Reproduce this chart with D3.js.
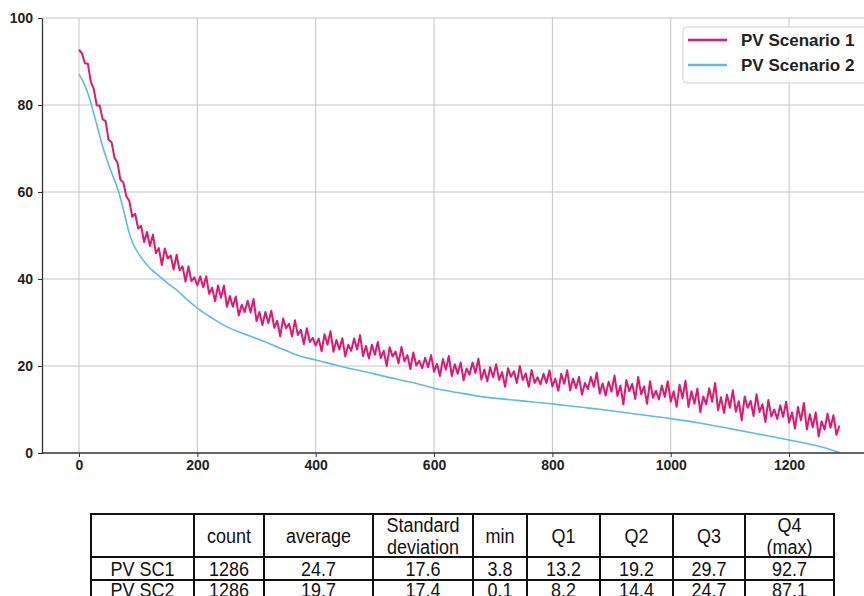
<!DOCTYPE html>
<html>
<head>
<meta charset="utf-8">
<script src="https://cdn.jsdelivr.net/npm/d3@7"></script>
<style>
  body { margin: 0; background: #fff; }
  svg { display: block; font-family: 'Liberation Sans', Arial, sans-serif; }
</style>
</head>
<body>
<svg id="chart" width="864" height="596"></svg>
<script>
// PV Scenario 1 values, one every 5 samples (0 .. 1285)
const sc1Values = [
  92.7, 91.9, 89.6, 89.5, 85.3, 83.7, 79.9, 79.9, 76.7, 76.3,
  72.0, 71.5, 67.9, 66.8, 62.8, 62.2, 59.0, 58.0, 54.3, 55.0,
  51.6, 52.2, 48.5, 50.8, 47.6, 50.2, 45.9, 47.1, 43.2, 47.0,
  44.7, 45.4, 42.2, 45.6, 42.0, 42.9, 39.4, 42.9, 39.5, 40.4,
  38.5, 40.6, 38.1, 40.6, 36.6, 38.0, 34.9, 38.5, 35.7, 38.5,
  33.6, 36.1, 33.6, 36.0, 31.6, 34.1, 32.4, 35.0, 32.3, 35.4,
  30.3, 32.4, 29.4, 32.4, 29.9, 32.7, 28.8, 30.4, 26.8, 30.9,
  28.7, 29.7, 26.8, 30.5, 27.1, 28.3, 25.0, 28.7, 25.5, 26.5,
  24.7, 26.3, 23.4, 27.3, 24.9, 28.0, 23.3, 26.0, 23.8, 26.4,
  22.2, 24.9, 23.5, 26.3, 23.8, 27.1, 22.3, 24.6, 21.7, 24.9,
  22.6, 25.5, 21.8, 23.5, 20.0, 24.3, 22.2, 23.3, 20.6, 24.4,
  21.1, 22.5, 19.3, 23.1, 20.1, 21.2, 19.5, 21.9, 19.7, 22.5,
  18.7, 20.5, 17.7, 21.6, 19.2, 22.3, 17.7, 20.4, 18.2, 20.8,
  16.7, 19.4, 18.0, 20.8, 18.4, 21.7, 16.9, 19.2, 16.5, 19.7,
  17.4, 20.4, 16.8, 18.6, 15.2, 19.5, 17.5, 18.8, 16.1, 20.0,
  16.8, 18.3, 15.2, 19.1, 16.1, 17.4, 15.8, 18.2, 16.1, 19.0,
  15.3, 17.1, 14.3, 18.2, 15.9, 19.0, 14.4, 17.1, 14.9, 17.5,
  13.4, 16.1, 14.7, 17.5, 15.2, 18.5, 13.7, 16.0, 13.2, 16.4,
  14.1, 17.8, 13.1, 15.5, 11.2, 16.8, 14.2, 15.9, 12.4, 17.5,
  13.5, 15.3, 11.3, 16.5, 12.7, 14.3, 12.3, 15.5, 12.9, 16.5,
  11.8, 14.2, 10.6, 15.7, 12.6, 16.6, 10.6, 14.2, 11.3, 14.8,
  9.4, 13.0, 11.2, 14.9, 11.8, 16.1, 9.8, 12.8, 9.2, 13.4,
  10.4, 14.4, 9.5, 11.9, 7.5, 13.0, 10.4, 12.0, 8.5, 13.5,
  9.4, 11.2, 7.1, 12.2, 8.4, 10.0, 7.8, 11.0, 8.3, 11.8,
  7.0, 9.3, 5.6, 10.6, 7.5, 11.5, 5.4, 8.9, 5.9, 9.3,
  3.8, 7.3, 5.4, 9.0, 5.8, 8.7, 4.2, 6.3
];
const sc1Index = d3.range(0, 1286, 5);

// PV Scenario 2 (smooth curve) as [sample, value]
const sc2Points = [
  [0, 87.1], [10, 84.5], [19, 81], [30, 75.5], [41, 70], [55, 64.5], [66, 60.5],
  [76, 55.5], [84, 51], [90, 48.5], [100, 46], [108, 44.4], [120, 42.5], [137, 40.5],
  [150, 39], [165, 37.5], [180, 35.6], [200, 33.3], [225, 31], [250, 29], [275, 27.6],
  [300, 26.3], [340, 24.1], [373, 22.3], [400, 21.4], [440, 20], [486, 18.6], [520, 17.5],
  [560, 16.3], [600, 14.9], [640, 13.9], [683, 12.9], [740, 12.1], [800, 11.3], [850, 10.5],
  [900, 9.7], [950, 8.8], [1000, 7.9], [1048, 6.9], [1100, 5.6], [1150, 4.3], [1200, 3.0],
  [1230, 2.2], [1260, 1.2], [1285, 0.1]
];

const xTicks = [0, 200, 400, 600, 800, 1000, 1200];
const yTicks = [0, 20, 40, 60, 80, 100];
const seriesNames = ['PV Scenario 1', 'PV Scenario 2'];
const seriesColors = ['#e4176f', '#5bbce6'];

const tableHeader = ['', 'count', 'average', 'Standard\ndeviation', 'min', 'Q1', 'Q2', 'Q3', 'Q4\n(max)'];
const tableRows = [
  ['PV SC1', '1286', '24.7', '17.6', '3.8', '13.2', '19.2', '29.7', '92.7'],
  ['PV SC2', '1286', '19.7', '17.4', '0.1', '8.2', '14.4', '24.7', '87.1']
];

const svg = d3.select('#chart');

const x = d3.scaleLinear().domain([-62.5, 1326.6]).range([42, 864]);
const y = d3.scaleLinear().domain([0, 100]).range([453, 18]);

// grid
svg.append('g')
  .selectAll('line')
  .data(xTicks)
  .enter()
  .append('line')
  .attr('x1', d => x(d)).attr('x2', d => x(d))
  .attr('y1', y(100)).attr('y2', y(0))
  .attr('stroke', '#c4c4c4').attr('stroke-width', 1);

svg.append('g')
  .selectAll('line')
  .data(yTicks.filter(d => d > 0))
  .enter()
  .append('line')
  .attr('x1', 42).attr('x2', 864)
  .attr('y1', d => y(d)).attr('y2', d => y(d))
  .attr('stroke', '#c4c4c4').attr('stroke-width', 1);

// lines
const sc1 = sc1Index.map((d, i) => [d, sc1Values[i]]);

svg.append('path')
  .datum(sc2Points)
  .attr('fill', 'none')
  .attr('stroke', seriesColors[1])
  .attr('stroke-width', 1.6)
  .attr('d', d3.line().x(d => x(d[0])).y(d => y(d[1])).curve(d3.curveMonotoneX));

svg.append('path')
  .datum(sc1)
  .attr('fill', 'none')
  .attr('stroke', seriesColors[0])
  .attr('stroke-width', 2)
  .attr('stroke-linejoin', 'round')
  .attr('d', d3.line().x(d => x(d[0])).y(d => y(d[1])));

// axes
const xAxis = svg.append('g')
  .attr('transform', `translate(0,${y(0)})`)
  .call(d3.axisBottom(x).tickValues(xTicks).tickFormat(d3.format('d'))
    .tickSize(4).tickPadding(3).tickSizeOuter(0));

const yAxis = svg.append('g')
  .attr('transform', `translate(42,0)`)
  .call(d3.axisLeft(y).tickValues(yTicks).tickFormat(d3.format('d'))
    .tickSize(4).tickPadding(5).tickSizeOuter(0));

[xAxis, yAxis].forEach(a => {
  a.select('.domain').attr('stroke', '#333').attr('stroke-width', 1.3);
  a.selectAll('.tick line').attr('stroke', '#333');
  a.selectAll('text')
    .attr('font-family', "'Liberation Sans', Arial, sans-serif")
    .attr('font-size', 14)
    .attr('font-weight', 'bold')
    .attr('fill', '#222');
});
// extend bottom spine to the right edge
xAxis.select('.domain').attr('d', `M${x.range()[0]},0H864`);

// legend
const legend = svg.append('g');
legend.append('rect')
  .attr('x', 683).attr('y', 27)
  .attr('width', 200).attr('height', 56)
  .attr('rx', 4)
  .attr('fill', '#fff').attr('fill-opacity', 0.85)
  .attr('stroke', '#d0d0d0');

seriesNames.forEach((name, i) => {
  const ly = 40 + i * 25;
  legend.append('line')
    .attr('x1', 688).attr('x2', 727)
    .attr('y1', ly).attr('y2', ly)
    .attr('stroke', seriesColors[i]).attr('stroke-width', 2.5);
  legend.append('text')
    .attr('x', 741).attr('y', ly + 6)
    .attr('font-size', 17).attr('font-weight', 'bold').attr('fill', '#222')
    .text(name);
});

// statistics table (the last row is cut by the bottom edge, as in the source image)
const colEdges = [91, 194, 264, 373, 473, 527, 600, 673, 745, 834];
const rowEdges = [514, 557, 580, 603];
const table = svg.append('g');

const allRows = [tableHeader].concat(tableRows);
allRows.forEach((row, r) => {
  row.forEach((cell, c) => {
    const cx = (colEdges[c] + colEdges[c + 1]) / 2;
    const cy = r === 2 ? 590 : (rowEdges[r] + rowEdges[r + 1]) / 2;
    const parts = cell.split('\n');
    parts.forEach((p, k) => {
      const ty = cy + (k - (parts.length - 1) / 2) * 22;
      table.append('text')
        .attr('transform', `translate(${cx},${ty}) scale(1,1.12)`)
        .attr('dy', '0.36em')
        .attr('text-anchor', 'middle')
        .attr('font-size', 18)
        .attr('fill', '#111')
        .text(p);
    });
  });
});

table.selectAll('.v')
  .data(colEdges)
  .enter()
  .append('line')
  .attr('x1', d => d).attr('x2', d => d)
  .attr('y1', rowEdges[0]).attr('y2', rowEdges[3])
  .attr('stroke', '#111').attr('stroke-width', 2);

table.selectAll('.h')
  .data(rowEdges)
  .enter()
  .append('line')
  .attr('x1', colEdges[0] - 1).attr('x2', colEdges[colEdges.length - 1] + 1)
  .attr('y1', d => d).attr('y2', d => d)
  .attr('stroke', '#111').attr('stroke-width', 2);
</script>
</body>
</html>
